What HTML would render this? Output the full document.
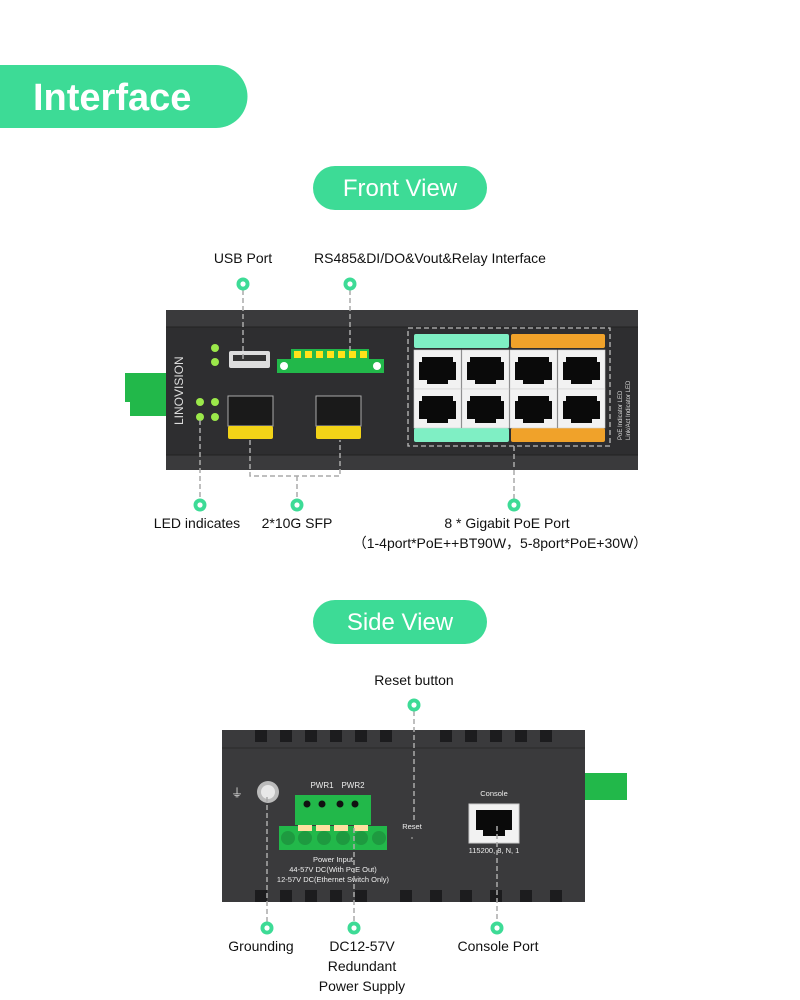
<!DOCTYPE html>
<html><head><meta charset="utf-8"><style>
html,body{margin:0;padding:0;background:#fff;}
svg{display:block;font-family:"Liberation Sans","Noto Sans CJK SC",sans-serif;}
</style></head><body>
<svg width="800" height="1000" viewBox="0 0 800 1000" xmlns="http://www.w3.org/2000/svg">
<defs>
<g id="dot"><circle r="6.5" fill="#3ddb96"/><circle r="2.6" fill="#fff"/></g>
<g id="rj">
<rect x="0" y="0" width="47" height="39" fill="#f2f2f2" stroke="#d0d0d0" stroke-width="0.6"/>
<path d="M8 7 H39 V12 H42 V30 H34 V34 H13 V30 H5 V12 H8 Z" fill="#0a0a0a"/>
</g>
</defs>
<!-- Title -->
<path d="M0 65 H216 A31.5 31.5 0 0 1 216 128 H0 Z" fill="#3ddb96"/>
<text x="33" y="110" font-size="38" font-weight="bold" fill="#fff">Interface</text>
<rect x="313" y="166" width="174" height="44" rx="22" fill="#3ddb96"/>
<text x="400" y="196" font-size="24" fill="#fff" text-anchor="middle">Front View</text>
<rect x="313" y="600" width="174" height="44" rx="22" fill="#3ddb96"/>
<text x="400" y="630" font-size="24" fill="#fff" text-anchor="middle">Side View</text>

<!-- Front labels -->
<g font-size="14" fill="#111" text-anchor="middle">
<text x="243" y="263">USB Port</text>
<text x="430" y="263">RS485&amp;DI/DO&amp;Vout&amp;Relay Interface</text>
<text x="197" y="528">LED indicates</text>
<text x="297" y="528">2*10G SFP</text>
<text x="507" y="528">8 * Gigabit PoE Port</text>
<text x="500" y="548">（1-4port*PoE++BT90W，5-8port*PoE+30W）</text>
<text x="414" y="685">Reset button</text>
<text x="261" y="951">Grounding</text>
<text x="362" y="951">DC12-57V</text>
<text x="362" y="971">Redundant</text>
<text x="362" y="991">Power Supply</text>
<text x="498" y="951">Console Port</text>
</g>

<!-- Front device -->
<path d="M125 373 H167 V416 H130 V402 H125 Z" fill="#22b84a"/>
<rect x="166" y="310" width="472" height="160" fill="#2e2e30"/>
<rect x="166" y="310" width="472" height="17" fill="#3a3a3c"/>
<rect x="166" y="455" width="472" height="15" fill="#3a3a3c"/>
<line x1="166" y1="327" x2="638" y2="327" stroke="#222" stroke-width="1"/>
<line x1="166" y1="455" x2="638" y2="455" stroke="#222" stroke-width="1"/>
<text transform="translate(183,425) rotate(-90)" font-size="12" fill="#ddd">LINOVISION</text>
<!-- LEDs -->
<g fill="#9be84a">
<circle cx="215" cy="348" r="4"/><circle cx="215" cy="362" r="4"/>
<circle cx="200" cy="402" r="4"/><circle cx="215" cy="402" r="4"/>
<circle cx="200" cy="417" r="4"/><circle cx="215" cy="417" r="4"/>
</g>
<!-- USB -->
<rect x="229" y="351" width="41" height="17" rx="2" fill="#ddd"/>
<rect x="233" y="355" width="33" height="6" fill="#333"/>
<!-- terminal -->
<rect x="277" y="359" width="107" height="14" fill="#22b84a"/>
<rect x="291" y="349" width="78" height="12" fill="#22b84a"/>
<g fill="#ffe21a"><rect x="294" y="351" width="7" height="7"/><rect x="305" y="351" width="7" height="7"/><rect x="316" y="351" width="7" height="7"/><rect x="327" y="351" width="7" height="7"/><rect x="338" y="351" width="7" height="7"/><rect x="349" y="351" width="7" height="7"/><rect x="360" y="351" width="7" height="7"/></g>
<circle cx="284" cy="366" r="4" fill="#fff"/><circle cx="377" cy="366" r="4" fill="#fff"/>
<!-- SFP -->
<rect x="228" y="396" width="45" height="30" fill="#1a1a1a" stroke="#aaa" stroke-width="1"/>
<rect x="316" y="396" width="45" height="30" fill="#1a1a1a" stroke="#aaa" stroke-width="1"/>
<rect x="228" y="426" width="45" height="13" rx="2" fill="#f2d318"/>
<rect x="316" y="426" width="45" height="13" rx="2" fill="#f2d318"/>
<!-- ports -->
<rect x="408" y="328" width="202" height="118" fill="none" stroke="#bbb" stroke-width="1.3" stroke-dasharray="5,3"/>
<rect x="414" y="334" width="95" height="14" rx="2" fill="#7fefc4"/>
<rect x="511" y="334" width="94" height="14" rx="2" fill="#f0a22a"/>
<rect x="414" y="428" width="95" height="14" rx="2" fill="#7fefc4"/>
<rect x="511" y="428" width="94" height="14" rx="2" fill="#f0a22a"/>
<use href="#rj" x="414" y="350"/><use href="#rj" x="462" y="350"/><use href="#rj" x="510" y="350"/><use href="#rj" x="558" y="350"/>
<use href="#rj" x="414" y="389"/><use href="#rj" x="462" y="389"/><use href="#rj" x="510" y="389"/><use href="#rj" x="558" y="389"/>
<text transform="translate(622,440) rotate(-90)" font-size="6" fill="#ddd">PoE Indicator LED</text>
<text transform="translate(630,440) rotate(-90)" font-size="6" fill="#ddd">Link/Act Indicator LED</text>

<!-- front connectors -->
<g stroke="#aaa" stroke-width="1.5" stroke-dasharray="5,3" fill="none">
<path d="M243 290 V362"/>
<path d="M350 290 V352"/>
<path d="M200 420 V499"/>
<path d="M250 440 V476 H340 V440 M297 476 V499"/>
<path d="M514 446 V499"/>
</g>
<use href="#dot" x="243" y="284"/><use href="#dot" x="350" y="284"/>
<use href="#dot" x="200" y="505"/><use href="#dot" x="297" y="505"/><use href="#dot" x="514" y="505"/>

<!-- Side device -->
<path d="M585 773 H627 V800 H585 Z" fill="#22b84a"/>
<rect x="222" y="730" width="363" height="172" fill="#3a3a3c"/>
<line x1="222" y1="748" x2="585" y2="748" stroke="#2a2a2a"/>
<g fill="#1c1c1e">
<path d="M255 730 h12 v12 h-12z M280 730 h12 v12 h-12z M305 730 h12 v12 h-12z M330 730 h12 v12 h-12z M355 730 h12 v12 h-12z M380 730 h12 v12 h-12z M440 730 h12 v12 h-12z M465 730 h12 v12 h-12z M490 730 h12 v12 h-12z M515 730 h12 v12 h-12z M540 730 h12 v12 h-12z"/>
<path d="M255 890 h12 v12 h-12z M280 890 h12 v12 h-12z M305 890 h12 v12 h-12z M330 890 h12 v12 h-12z M355 890 h12 v12 h-12z M400 890 h12 v12 h-12z M430 890 h12 v12 h-12z M460 890 h12 v12 h-12z M490 890 h12 v12 h-12z M520 890 h12 v12 h-12z M550 890 h12 v12 h-12z"/>
</g>
<text x="237" y="797" font-size="12" fill="#ddd" text-anchor="middle">⏚</text>
<circle cx="268" cy="792" r="11" fill="#bbb"/><circle cx="268" cy="792" r="7" fill="#e8e8e8"/>
<text x="322" y="788" font-size="8" fill="#eee" text-anchor="middle">PWR1</text>
<text x="353" y="788" font-size="8" fill="#eee" text-anchor="middle">PWR2</text>
<rect x="295" y="795" width="76" height="30" fill="#22b84a"/>
<rect x="279" y="826" width="108" height="24" fill="#22b84a"/>
<g fill="#ffe0a0"><rect x="298" y="825" width="14" height="6"/><rect x="316" y="825" width="14" height="6"/><rect x="334" y="825" width="14" height="6"/><rect x="354" y="825" width="14" height="6"/></g>
<g fill="#1e9a40"><circle cx="288" cy="838" r="7"/><circle cx="305" cy="838" r="7"/><circle cx="324" cy="838" r="7"/><circle cx="343" cy="838" r="7"/><circle cx="361" cy="838" r="7"/><circle cx="379" cy="838" r="7"/></g>
<g fill="#111"><circle cx="307" cy="804" r="3.5"/><circle cx="322" cy="804" r="3.5"/><circle cx="340" cy="804" r="3.5"/><circle cx="355" cy="804" r="3.5"/></g>
<g font-size="7.5" fill="#eee" text-anchor="middle">
<text x="333" y="862">Power Input</text>
<text x="333" y="872">44-57V DC(With PoE Out)</text>
<text x="333" y="882">12-57V DC(Ethernet Switch Only)</text>
<text x="412" y="829">Reset</text>
<text x="494" y="796">Console</text>
<text x="494" y="853">115200, 8, N, 1</text>
</g>
<circle cx="412" cy="838" r="1" fill="#888"/>
<rect x="469" y="804" width="50" height="39" fill="#f2f2f2" stroke="#ccc"/>
<path d="M476 810 H512 V830 H505 V836 H483 V830 H476 Z" fill="#0a0a0a"/>

<g stroke="#aaa" stroke-width="1.5" stroke-dasharray="5,3" fill="none">
<path d="M414 711 V823"/>
<path d="M267 797 V922"/>
<path d="M354 828 V922"/>
<path d="M497 826 V922"/>
</g>
<use href="#dot" x="414" y="705"/>
<use href="#dot" x="267" y="928"/><use href="#dot" x="354" y="928"/><use href="#dot" x="497" y="928"/>
</svg>
</body></html>
